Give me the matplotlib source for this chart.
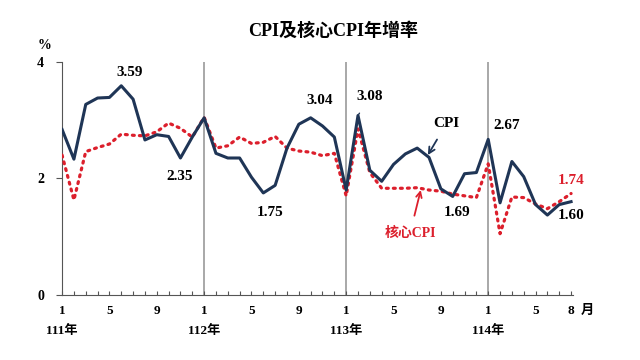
import matplotlib
matplotlib.use("Agg")
import matplotlib.pyplot as plt
import matplotlib.transforms as mtransforms

plt.rcParams['font.family'] = ['Liberation Serif', 'Noto Sans CJK TC']
plt.rcParams['font.weight'] = 'bold'

# 111年1月 ~ 114年8月
cpi = [2.84, 2.33, 3.27, 3.38, 3.39, 3.59, 3.36, 2.66, 2.75, 2.72, 2.35, 2.71,
       3.04, 2.43, 2.35, 2.35, 2.02, 1.75, 1.88, 2.52, 2.93, 3.04, 2.90, 2.71,
       1.80, 3.08, 2.14, 1.95, 2.24, 2.42, 2.52, 2.36, 1.82, 1.69, 2.08, 2.10,
       2.67, 1.58, 2.29, 2.03, 1.55, 1.37, 1.55, 1.60]
core = [2.40, 1.63, 2.46, 2.53, 2.59, 2.76, 2.74, 2.73, 2.80, 2.95, 2.86, 2.71,
        3.05, 2.52, 2.56, 2.71, 2.60, 2.62, 2.72, 2.52, 2.47, 2.45, 2.39, 2.43,
        1.70, 2.85, 2.10, 1.83, 1.83, 1.83, 1.84, 1.80, 1.78, 1.73, 1.70, 1.67,
        2.25, 1.05, 1.68, 1.67, 1.56, 1.48, 1.60, 1.74]
years = ["111年", "112年", "113年", "114年"]
month_labels = ["1", "5", "9"]

navy = "#1f3556"
red = "#dc1f2c"

fig = plt.figure(figsize=(6.4, 3.6), dpi=100)
ax = fig.add_axes([0.097, 0.181, 0.799, 0.647])

x = list(range(len(cpi)))
ax.plot(x, core, color=red, linewidth=2.3, linestyle=(0, (0.6, 1.6)),
        dash_capstyle='round', zorder=3)
ax.plot(x, cpi, color=navy, linewidth=2.2, zorder=4)

# 年度分隔線
for i in range(1, len(years)):
    ax.axvline(12 * i, color="#999999", linewidth=1.2, zorder=1)

ax.set_xlim(0, 43.2)
ax.set_ylim(0, 4)
for s in ["top", "right"]:
    ax.spines[s].set_visible(False)
ax.spines["left"].set_color("#555555")
ax.spines["bottom"].set_color("#555555")

ax.set_yticks([0, 2, 4])
ax.set_yticklabels(["0", "2", "4"], fontsize=10, fontweight='bold')
ax.tick_params(axis='y', direction='out', length=4, color="#555555", pad=9)
ax.set_xticks(x)
ax.set_xticklabels([])
ax.tick_params(axis='x', direction='in', length=3, color="#555555")

trans = mtransforms.blended_transform_factory(ax.transData, ax.transAxes)
for i, yr in enumerate(years):
    for m in month_labels:
        idx = 12 * i + int(m) - 1
        if idx < len(cpi):
            ax.text(idx, -0.068, m, transform=trans, ha='center', va='center',
                    fontsize=9.5, fontweight='bold')
    ax.text(12 * i, -0.155, yr, transform=trans, ha='center', va='center',
            fontsize=9.5, fontweight='bold')
ax.text(len(cpi) - 1, -0.068, "8", transform=trans, ha='center', va='center',
        fontsize=9.5, fontweight='bold')
ax.text(len(cpi) + 0.4, -0.068, "月", transform=trans, ha='center', va='center',
        fontsize=9.5, fontweight='bold')

ax.text(-1.5, 1.07, "%", transform=trans, ha='center', va='center',
        fontsize=10, fontweight='bold')

fig.text(0.52, 0.915, "CPI及核心CPI年增率", ha='center', va='center',
         fontsize=13, fontweight='bold')

lab = dict(ha='center', va='center', fontsize=11, fontweight='bold')
ax.text(5.74, 3.82, "3.59", color="black", **lab)
ax.text(9.97, 2.04, "2.35", color="black", **lab)
ax.text(17.6, 1.41, "1.75", color="black", **lab)
ax.text(21.8, 3.34, "3.04", color="black", **lab)
ax.annotate("3.08", xy=(25, 3.08), xytext=(26.0, 3.40), color="black",
            arrowprops=dict(arrowstyle='-', color=navy, lw=1, shrinkA=6, shrinkB=1), **lab)
ax.text(33.4, 1.41, "1.69", color="black", **lab)
ax.text(37.6, 2.90, "2.67", color="black", **lab)
ax.text(43.0, 1.97, "1.74", color=red, **lab)
ax.text(43.0, 1.37, "1.60", color="black", **lab)

ax.annotate("CPI", xy=(30.9, 2.40), xytext=(32.5, 2.95), color="black",
            arrowprops=dict(arrowstyle='->', color=navy, lw=1.3, shrinkA=6, shrinkB=0), **lab)
ax.annotate("核心CPI", xy=(30.3, 1.80), xytext=(29.4, 1.06), color=red,
            arrowprops=dict(arrowstyle='->', color=red, lw=1.3, shrinkA=6, shrinkB=0),
            ha='center', va='center', fontsize=10, fontweight='bold')

fig.savefig("out.png", dpi=100)
